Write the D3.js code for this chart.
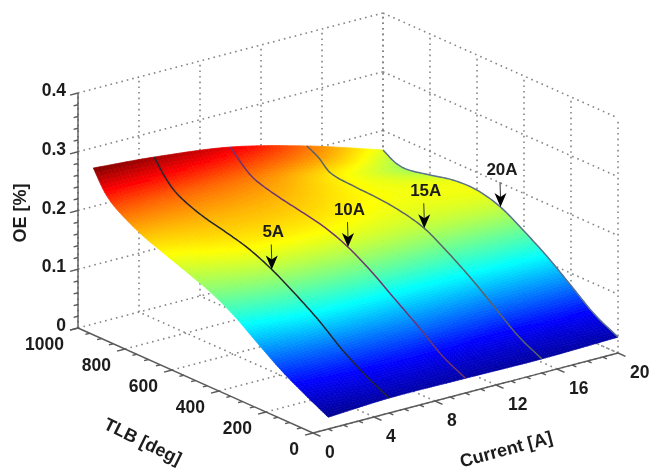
<!DOCTYPE html>
<html>
<head>
<meta charset="utf-8">
<style>
  html, body { margin: 0; padding: 0; background: #fff; }
  text { font-family: "Liberation Sans", Arial, sans-serif; font-weight: bold; fill: #1c1c1c; }
</style>
<script src="https://cdn.jsdelivr.net/npm/d3@7"></script>
</head>
<body>
<div id="chart"></div>
<script>
// Values
var tlbValues = [0, 100, 200, 300, 400, 500, 600, 700, 800, 900, 950, 1000];
var currentValues = [1, 5, 10, 15, 20];
var oeAt1A = [0.02, 0.041, 0.064, 0.092, 0.121, 0.143, 0.159, 0.174, 0.19, 0.213, 0.232, 0.2655];
var oeAt5A = [0.0255, 0.046, 0.072, 0.104, 0.131, 0.155, 0.173, 0.184, 0.194, 0.211, 0.229, 0.257];
var oeAt10A = [0.025, 0.046, 0.077, 0.106, 0.135, 0.159, 0.175, 0.184, 0.192, 0.204, 0.219, 0.24];
var oeAt15A = [0.024, 0.045, 0.076, 0.107, 0.134, 0.157, 0.168, 0.173, 0.175, 0.18, 0.197, 0.2077];
var oeAt20A = [0.027, 0.048, 0.079, 0.11, 0.136, 0.159, 0.17, 0.169, 0.16, 0.152, 0.155, 0.167];
var oeColumns = [oeAt1A, oeAt5A, oeAt10A, oeAt15A, oeAt20A];

var currentTicks = [0, 4, 8, 12, 16, 20];
var tlbTicks = [0, 200, 400, 600, 800, 1000];
var oeTicks = [0, 0.1, 0.2, 0.3, 0.4];
var markedCurrents = [5, 10, 15, 20];
var markedLabels = ["5A", "10A", "15A", "20A"];
var markedTlb = 500;
var lineColors = ["#26262e", "#6f3570", "#5a6468", "#5b7190"];

var width = 651;
var height = 472;

// The box is an orthographic projection, so each data axis adds its own screen offset
var xCurrent = d3.scaleLinear().domain([0, 20]).range([313, 618]);
var yCurrent = d3.scaleLinear().domain([0, 20]).range([433, 353]);
var xTlb = d3.scaleLinear().domain([0, 1000]).range([0, -235]);
var yTlb = d3.scaleLinear().domain([0, 1000]).range([0, -105]);
var yOe = d3.scaleLinear().domain([0, 0.4]).range([0, -235]);

function project(c, t, z) {
  return [xCurrent(c) + xTlb(t), yCurrent(c) + yTlb(t) + yOe(z)];
}

// jet colormap over the surface range
var oeMin = 0.02;
var oeMax = 0.2655;
var jet = d3
  .scaleLinear()
  .domain([0, 0.125, 0.375, 0.625, 0.875, 1].map(function (s) {
    return oeMin + s * (oeMax - oeMin);
  }))
  .range(["#00008f", "#0000ff", "#00ffff", "#ffff00", "#ff0000", "#800000"])
  .clamp(true);

// Smooth reading between the values, only used to shade the surface finely
function smoothAt(xs, ys, x) {
  var i = Math.min(Math.max(d3.bisectRight(xs, x) - 1, 0), xs.length - 2);
  var h = xs[i + 1] - xs[i];
  var s = (x - xs[i]) / h;
  function slope(k) {
    var a = Math.max(k - 1, 0);
    var b = Math.min(k + 1, xs.length - 1);
    return (ys[b] - ys[a]) / (xs[b] - xs[a]);
  }
  var s2 = s * s;
  var s3 = s2 * s;
  return (
    (2 * s3 - 3 * s2 + 1) * ys[i] +
    (s3 - 2 * s2 + s) * h * slope(i) +
    (-2 * s3 + 3 * s2) * ys[i + 1] +
    (s3 - s2) * h * slope(i + 1)
  );
}

function oeAt(c, t) {
  var across = oeColumns.map(function (col) {
    return smoothAt(tlbValues, col, t);
  });
  return smoothAt(currentValues, across, c);
}

var svg = d3
  .select("#chart")
  .append("svg")
  .attr("width", width)
  .attr("height", height)
  .style("display", "block");

var defs = svg.append("defs");
defs
  .append("filter")
  .attr("id", "soft")
  .attr("x", 0)
  .attr("y", 0)
  .attr("width", width)
  .attr("height", height)
  .attr("filterUnits", "userSpaceOnUse")
  .append("feGaussianBlur")
  .attr("stdDeviation", 0.6);

var g = svg.append("g").attr("filter", "url(#soft)");
var line = d3.line();

// Dotted grid on the two back walls and the floor
var gridG = g
  .append("g")
  .attr("fill", "none")
  .attr("stroke", "#858585")
  .attr("stroke-width", 1.6)
  .attr("stroke-dasharray", "1.6 4");

function gridLine(a, b) {
  gridG.append("path").attr("d", line([project(a[0], a[1], a[2]), project(b[0], b[1], b[2])]));
}

oeTicks.forEach(function (z) {
  gridLine([0, 1000, z], [20, 1000, z]);
  gridLine([20, 1000, z], [20, 0, z]);
});
currentTicks.forEach(function (c) {
  gridLine([c, 1000, 0], [c, 1000, 0.4]);
  if (c > 0) gridLine([c, 0, 0], [c, 1000, 0]);
});
tlbTicks.forEach(function (t) {
  gridLine([20, t, 0], [20, t, 0.4]);
  if (t < 1000) gridLine([0, t, 0], [20, t, 0]);
});

// Surface
var surfaceG = g.append("g");
var fineT = d3.range(0, 1000.01, 8);
var fineC = d3.range(1, 20.01, 0.25);

for (var i = 0; i < fineC.length - 1; i++) {
  for (var j = 0; j < fineT.length - 1; j++) {
    var c0 = fineC[i];
    var c1 = fineC[i + 1];
    var t0 = fineT[j];
    var t1 = fineT[j + 1];
    var z00 = oeAt(c0, t0);
    var z10 = oeAt(c1, t0);
    var z11 = oeAt(c1, t1);
    var z01 = oeAt(c0, t1);
    var col = jet((z00 + z10 + z11 + z01) / 4);
    surfaceG
      .append("path")
      .attr("d", line([project(c0, t0, z00), project(c1, t0, z10), project(c1, t1, z11), project(c0, t1, z01)]) + "Z")
      .attr("fill", col)
      .attr("stroke", col)
      .attr("stroke-width", 0.7);
  }
}

// Constant current lines drawn over the surface
markedCurrents.forEach(function (c, k) {
  g.append("path")
    .attr("d", line(fineT.map(function (t) {
      return project(c, t, oeAt(c, t));
    })))
    .attr("fill", "none")
    .attr("stroke", lineColors[k])
    .attr("stroke-width", 1.5);
});

// Axis lines and ticks
var axisG = g.append("g").attr("fill", "none").attr("stroke", "#5a5a5a").attr("stroke-width", 1.4);

function axisPiece(p, q) {
  axisG.append("path").attr("d", line([p, q]));
}

axisPiece(project(0, 1000, 0), project(0, 1000, 0.4));
axisPiece(project(0, 0, 0), project(0, 1000, 0));
axisPiece(project(0, 0, 0), project(20, 0, 0));

d3.range(0, 0.4001, 0.02).forEach(function (z, i) {
  var p = project(0, 1000, z);
  var len = i % 5 === 0 ? 1 : 0.55;
  axisPiece(p, [p[0] - 8 * len, p[1] + 2.1 * len]);
});
d3.range(0, 1000.1, 50).forEach(function (t, i) {
  var p = project(0, t, 0);
  var len = i % 4 === 0 ? 1 : 0.55;
  axisPiece(p, [p[0] - 8 * len, p[1] + 2.1 * len]);
});
d3.range(0, 20.01, 1).forEach(function (c, i) {
  var p = project(c, 0, 0);
  var len = i % 4 === 0 ? 1 : 0.55;
  axisPiece(p, [p[0] + 7.5 * len, p[1] + 3.4 * len]);
});

// Tick labels
var labelSize = 17.5;

oeTicks.forEach(function (z) {
  var p = project(0, 1000, z);
  g.append("text")
    .attr("x", p[0] - 12)
    .attr("y", p[1] - 3)
    .attr("dy", "0.35em")
    .attr("text-anchor", "end")
    .attr("font-size", labelSize)
    .text(z);
});
tlbTicks.forEach(function (t) {
  var p = project(0, t, 0);
  g.append("text")
    .attr("x", p[0] - 14)
    .attr("y", p[1] + 16)
    .attr("dy", "0.35em")
    .attr("text-anchor", "end")
    .attr("font-size", labelSize)
    .text(t);
});
currentTicks.forEach(function (c) {
  var p = project(c, 0, 0);
  g.append("text")
    .attr("x", p[0] + 12)
    .attr("y", p[1] + 19)
    .attr("dy", "0.35em")
    .attr("text-anchor", "start")
    .attr("font-size", labelSize)
    .text(c);
});

// Axis titles
function axisTitle(label, x, y, angle) {
  g.append("text")
    .attr("transform", "translate(" + x + "," + y + ") rotate(" + angle + ")")
    .attr("dy", "0.35em")
    .attr("text-anchor", "middle")
    .attr("font-size", 18)
    .text(label);
}
axisTitle("OE [%]", 20, 213, -90);
axisTitle("TLB [deg]", 143, 441, 26);
axisTitle("Current [A]", 506, 449, -15);

// Arrows pointing at each current line
markedCurrents.forEach(function (c, k) {
  var tip = project(c, markedTlb, oeAt(c, markedTlb));
  var x = tip[0];
  var y = tip[1];
  g.append("path")
    .attr("d", line([[x - 0.5, y - 25], [x, y - 9]]))
    .attr("stroke", "#333")
    .attr("stroke-width", 1);
  g.append("path")
    .attr("d", line([[x, y], [x - 6, y - 14], [x, y - 10], [x + 6, y - 14]]) + "Z")
    .attr("fill", "#000");
  g.append("text")
    .attr("x", x + 1.5)
    .attr("y", y - 38)
    .attr("dy", "0.35em")
    .attr("text-anchor", "middle")
    .attr("font-size", 17)
    .text(markedLabels[k]);
});
</script>
</body>
</html>
